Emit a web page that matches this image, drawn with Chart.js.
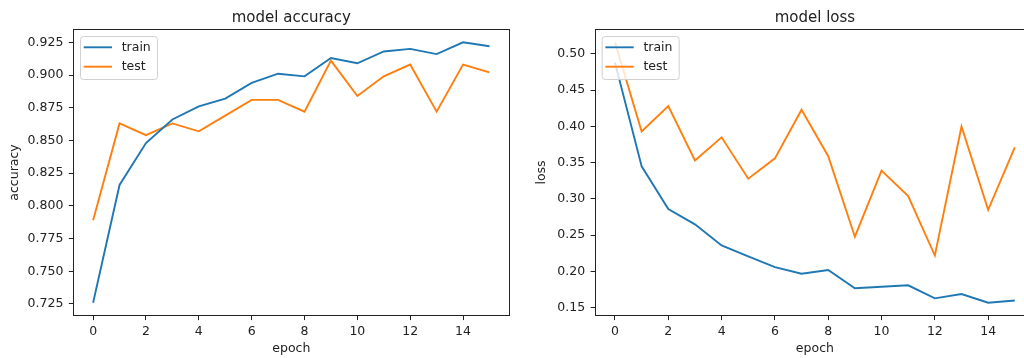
<!DOCTYPE html>
<html lang="en">
<head>
    <meta charset="UTF-8">
    <title>model accuracy / model loss</title>
    <script src="https://cdn.jsdelivr.net/npm/chart.js"></script>
    <style>
        body {
            margin: 0;
            background-color: #fff;
            width: 1024px;
            height: 358px;
            overflow: hidden;
            position: relative;
        }

        .plot {
            position: absolute;
            top: 0;
            height: 358px;
        }

        #accBox { left: 0; width: 520px; }
        #lossBox { left: 520px; width: 540px; }
    </style>
</head>
<body>
    <div class="plot" id="accBox"><canvas id="accChart" width="520" height="358"></canvas></div>
    <div class="plot" id="lossBox"><canvas id="lossChart" width="540" height="358"></canvas></div>

    <script>
        // du lieu doc tu hinh
        const epochs = [0, 1, 2, 3, 4, 5, 6, 7, 8, 9, 10, 11, 12, 13, 14, 15];
        const accTrain = [0.726, 0.816, 0.848, 0.866, 0.876, 0.882, 0.894, 0.901, 0.899, 0.913, 0.909, 0.918, 0.920, 0.916, 0.925, 0.922];
        const accTest = [0.789, 0.863, 0.854, 0.863, 0.857, 0.869, 0.881, 0.881, 0.872, 0.911, 0.884, 0.899, 0.908, 0.872, 0.908, 0.902];
        const lossTrain = [0.488, 0.345, 0.286, 0.265, 0.236, 0.221, 0.206, 0.197, 0.202, 0.177, 0.179, 0.181, 0.163, 0.169, 0.157, 0.160];
        const lossTest = [0.516, 0.393, 0.428, 0.353, 0.385, 0.328, 0.356, 0.423, 0.359, 0.248, 0.339, 0.304, 0.222, 0.400, 0.285, 0.371];
        const xTicks = [0, 2, 4, 6, 8, 10, 12, 14];
        const accTicks = [0.725, 0.750, 0.775, 0.800, 0.825, 0.850, 0.875, 0.900, 0.925];
        const lossTicks = [0.15, 0.20, 0.25, 0.30, 0.35, 0.40, 0.45, 0.50];

        const FONT = 'DejaVu Sans';
        const TEXT = '#222';

        // ve khung, tieu de, chu thich giong matplotlib
        const framePlugin = {
            id: 'frame',
            afterDraw(chart, args, opts) {
                const ctx = chart.ctx;
                const a = chart.chartArea;
                ctx.save();
                ctx.strokeStyle = '#222';
                ctx.lineWidth = 1;
                ctx.strokeRect(Math.round(a.left) + 0.5, Math.round(a.top) + 0.5,
                    Math.round(a.right - a.left), Math.round(a.bottom - a.top));

                ctx.fillStyle = TEXT;
                ctx.font = '15px ' + FONT;
                ctx.textAlign = 'center';
                ctx.textBaseline = 'alphabetic';
                ctx.fillText(opts.title, (a.left + a.right) / 2, a.top - 7.5);

                // legend
                const lx = a.left + 6.7, ly = a.top + 6.7;
                ctx.beginPath();
                ctx.roundRect(lx + 0.5, ly + 0.5, 77, 43, 3);
                ctx.fillStyle = 'rgba(255,255,255,0.8)';
                ctx.fill();
                ctx.strokeStyle = '#d0d0d0';
                ctx.lineWidth = 1;
                ctx.stroke();
                chart.data.datasets.forEach((ds, i) => {
                    const yy = ly + 11.3 + i * 19.4;
                    ctx.beginPath();
                    ctx.moveTo(lx + 3.7, yy);
                    ctx.lineTo(lx + 32, yy);
                    ctx.strokeStyle = ds.borderColor;
                    ctx.lineWidth = 1.9;
                    ctx.stroke();
                    ctx.fillStyle = TEXT;
                    ctx.font = '12.5px ' + FONT;
                    ctx.textAlign = 'left';
                    ctx.textBaseline = 'middle';
                    ctx.fillText(ds.label, lx + 41.7, yy);
                });
                ctx.restore();
            }
        };

        function makeChart(id, title, yLabel, train, test, yTicks, decimals, yAxisWidth, yTitlePad, padRight) {
            const lo = Math.min(...train, ...test);
            const hi = Math.max(...train, ...test);
            const m = (hi - lo) * 0.05;
            const xm = (epochs[epochs.length - 1] - epochs[0]) * 0.05;
            const tickFont = { family: FONT, size: 12.5 };

            return new Chart(document.getElementById(id), {
                type: 'line',
                data: {
                    datasets: [{
                        label: 'train',
                        data: epochs.map((e, i) => ({ x: e, y: train[i] })),
                        borderColor: '#1f77b4',
                        borderWidth: 1.9,
                        pointRadius: 0,
                        tension: 0,
                        fill: false
                    }, {
                        label: 'test',
                        data: epochs.map((e, i) => ({ x: e, y: test[i] })),
                        borderColor: '#ff7f0e',
                        borderWidth: 1.9,
                        pointRadius: 0,
                        tension: 0,
                        fill: false
                    }]
                },
                options: {
                    responsive: false,
                    animation: false,
                    layout: { padding: { top: 29.3, right: padRight, left: 0, bottom: 0 } },
                    plugins: {
                        legend: { display: false },
                        tooltip: { enabled: false },
                        frame: { title: title }
                    },
                    scales: {
                        x: {
                            type: 'linear',
                            min: epochs[0] - xm,
                            max: epochs[epochs.length - 1] + xm,
                            afterBuildTicks: s => { s.ticks = xTicks.map(v => ({ value: v })); },
                            afterFit: s => { s.height = 42.3; },
                            grid: { drawOnChartArea: false, drawTicks: true, tickLength: 4.4, color: '#222' },
                            border: { display: false },
                            ticks: { font: tickFont, color: TEXT, padding: 4, maxRotation: 0, callback: v => String(v) },
                            title: { display: true, text: 'epoch', font: tickFont, color: TEXT, padding: { top: 0, bottom: 2 } }
                        },
                        y: {
                            min: lo - m,
                            max: hi + m,
                            afterBuildTicks: s => { s.ticks = yTicks.map(v => ({ value: v })); },
                            afterFit: s => { s.width = yAxisWidth; },
                            grid: { drawOnChartArea: false, drawTicks: true, tickLength: 4.4, color: '#222' },
                            border: { display: false },
                            ticks: { font: tickFont, color: TEXT, padding: 5.5, callback: v => Number(v).toFixed(decimals) },
                            title: { display: true, text: yLabel, font: tickFont, color: TEXT, padding: { top: yTitlePad, bottom: 0 } }
                        }
                    }
                },
                plugins: [framePlugin]
            });
        }

        makeChart('accChart', 'model accuracy', 'accuracy', accTrain, accTest, accTicks, 3, 73.3, 7.5, 10.7);
        makeChart('lossChart', 'model loss', 'loss', lossTrain, lossTest, lossTicks, 2, 75, 14.2, 25.2);
    </script>
</body>
</html>
